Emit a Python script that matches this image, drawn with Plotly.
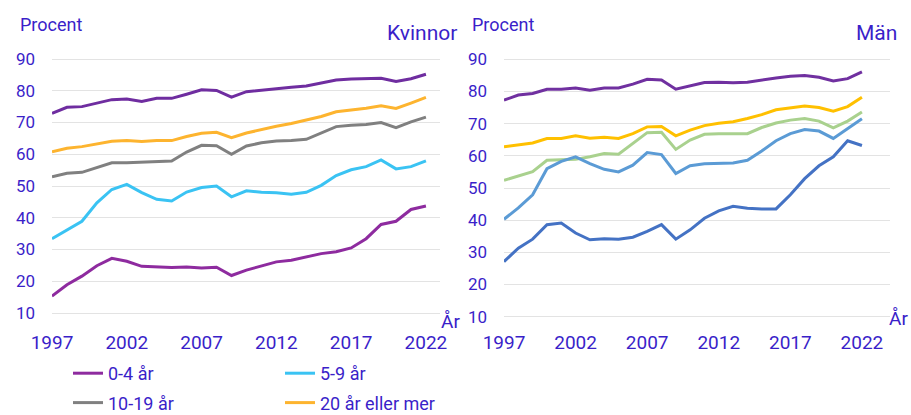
import plotly.graph_objects as go

years = list(range(1997, 2023))

# Kvinnor
kv_total = [72.9, 74.8, 75.0, 76.1, 77.2, 77.4, 76.6, 77.6, 77.6, 78.9, 80.3, 80.1, 78.0,
            79.7, 80.2, 80.8, 81.1, 81.5, 82.4, 83.4, 83.7, 83.9, 83.9, 82.9, 83.8, 85.2]
kv_0_4 = [15.3, 18.9, 21.6, 24.9, 27.2, 26.3, 24.7, 24.5, 24.3, 24.5, 24.2, 24.4, 21.8,
          23.5, 24.9, 26.1, 26.6, 27.7, 28.7, 29.3, 30.5, 33.4, 37.9, 38.9, 42.6, 43.7]
kv_5_9 = [33.4, 36.1, 38.9, 44.7, 48.9, 50.5, 47.9, 45.8, 45.3, 48.1, 49.5, 50.0, 46.6,
          48.5, 48.0, 47.9, 47.4, 48.0, 50.2, 53.3, 55.1, 56.1, 58.2, 55.4, 56.1, 57.9]
kv_10_19 = [52.9, 54.0, 54.3, 55.8, 57.3, 57.3, 57.5, 57.8, 57.9, 60.7, 62.8, 62.7, 60.0,
            62.6, 63.6, 64.2, 64.3, 64.7, 66.8, 68.7, 69.1, 69.4, 70.0, 68.4, 70.2, 71.7]
kv_20plus = [60.8, 61.9, 62.4, 63.3, 64.1, 64.3, 64.0, 64.3, 64.3, 65.6, 66.6, 66.9, 65.2,
             66.7, 67.8, 68.8, 69.7, 70.8, 71.9, 73.4, 73.9, 74.5, 75.3, 74.4, 76.1, 77.9]

# Män
man_total = [77.3, 78.9, 79.4, 80.7, 80.7, 81.1, 80.4, 81.1, 81.1, 82.3, 83.8, 83.6, 80.7,
             81.7, 82.8, 82.9, 82.7, 82.9, 83.6, 84.2, 84.7, 85.0, 84.4, 83.3, 84.0, 86.1]
man_0_4 = [27.1, 31.3, 34.1, 38.6, 39.1, 36.0, 33.9, 34.2, 34.1, 34.7, 36.5, 38.6, 34.1,
           37.0, 40.6, 42.9, 44.3, 43.7, 43.5, 43.5, 47.9, 52.9, 56.9, 59.7, 64.7, 63.2]
man_5_9 = [40.3, 43.8, 47.9, 56.0, 58.3, 59.7, 57.6, 55.8, 55.0, 57.1, 61.0, 60.4, 54.5,
           56.9, 57.5, 57.6, 57.8, 58.6, 61.5, 64.7, 66.9, 68.2, 67.7, 65.4, 68.5, 71.5]
man_10_19 = [52.4, 53.8, 55.1, 58.6, 58.8, 58.9, 59.7, 60.7, 60.5, 63.8, 67.2, 67.3, 62.0,
             64.9, 66.7, 66.9, 66.9, 66.9, 68.8, 70.2, 71.1, 71.6, 70.8, 68.7, 70.8, 73.6]
man_20plus = [62.8, 63.5, 64.0, 65.4, 65.4, 66.2, 65.5, 65.8, 65.4, 66.9, 69.0, 69.1, 66.2,
              68.0, 69.4, 70.1, 70.6, 71.6, 72.8, 74.3, 74.8, 75.5, 75.0, 73.9, 75.3, 78.2]

tick_years = [1997, 2002, 2007, 2012, 2017, 2022]
y_ticks = [10, 20, 30, 40, 50, 60, 70, 80, 90]

TXT = "#3a1fc9"
FONT = "Roboto"
W, H = 911, 415

fig = go.Figure()

def add(x, y, name, color, xa, ya, show, legend="legend", group=None):
    fig.add_trace(go.Scatter(x=x, y=y, name=name, mode="lines",
                             line=dict(color=color, width=3),
                             xaxis=xa, yaxis=ya, showlegend=show,
                             legend=legend, legendgroup=group or name))

# Kvinnor (legend order: 0-4, 5-9, 10-19, 20+)
add(years, kv_0_4, "0-4 år", "#8e2b9f", "x", "y", True, "legend", "g1")
add(years, kv_5_9, "5-9 år", "#3ac3f3", "x", "y", True, "legend2", "g2")
add(years, kv_10_19, "10-19 år", "#808080", "x", "y", True, "legend", "g3")
add(years, kv_20plus, "20 år eller mer", "#fdb42f", "x", "y", True, "legend2", "g4")
add(years, kv_total, "Samtliga", "#6f2da0", "x", "y", False)

# Män
add(years, man_total, "Samtliga (män)", "#7030a0", "x2", "y2", False)
add(years, man_20plus, "20 år eller mer (män)", "#ffc000", "x2", "y2", False)
add(years, man_10_19, "10-19 år (män)", "#a9d18e", "x2", "y2", False)
add(years, man_5_9, "5-9 år (män)", "#5b9bd5", "x2", "y2", False)
add(years, man_0_4, "0-4 år (män)", "#4472c4", "x2", "y2", False)

def px_x(p):
    return p / W

def px_y(p):
    return 1 - p / H

ytick_font = dict(family=FONT, size=17, color=TXT)
xtick_font = dict(family=FONT, size=19, color=TXT)
common = dict(showline=False, zeroline=False, ticks="", automargin=False)

fig.update_layout(
    template="none",
    width=W, height=H,
    margin=dict(l=0, r=0, t=0, b=0, autoexpand=False),
    paper_bgcolor="white", plot_bgcolor="white",
    font=dict(family=FONT, color=TXT),
    xaxis=dict(domain=[px_x(52), px_x(440)], range=[1997, 2022.94],
               tickvals=tick_years, showgrid=False, ticklabelstandoff=12,
               tickfont=xtick_font, anchor="y", **common),
    yaxis=dict(domain=[px_y(317), px_y(55)], range=[8.74, 91.26],
               tickvals=y_ticks, showgrid=True, gridcolor="#e3e3e3", gridwidth=1,
               ticklabelstandoff=16, tickfont=ytick_font, anchor="x", **common),
    xaxis2=dict(domain=[px_x(504), px_x(890)], range=[1997, 2023.96],
                tickvals=tick_years, showgrid=False, ticklabelstandoff=8,
                tickfont=xtick_font, anchor="y2", **common),
    yaxis2=dict(domain=[px_y(321), px_y(55)], range=[8.66, 91.34],
                tickvals=y_ticks, showgrid=True, gridcolor="#e3e3e3", gridwidth=1,
                ticklabelstandoff=16, tickfont=ytick_font, anchor="x2", **common),
    legend=dict(x=px_x(68), y=px_y(355), xanchor="left", yanchor="top",
                orientation="v", traceorder="grouped", tracegroupgap=3,
                font=dict(family=FONT, size=18, color=TXT), bgcolor="rgba(0,0,0,0)",
                itemclick=False, itemdoubleclick=False),
    legend2=dict(x=px_x(280), y=px_y(355), xanchor="left", yanchor="top",
                 orientation="v", traceorder="grouped", tracegroupgap=3,
                 font=dict(family=FONT, size=18, color=TXT), bgcolor="rgba(0,0,0,0)",
                 itemclick=False, itemdoubleclick=False),
    showlegend=True,
)

annots = [
    dict(text="Procent", x=px_x(18), y=px_y(25), xanchor="left", yanchor="middle", size=18),
    dict(text="Procent", x=px_x(470), y=px_y(25), xanchor="left", yanchor="middle", size=18),
    dict(text="Kvinnor", x=px_x(459), y=px_y(33), xanchor="right", yanchor="middle", size=21),
    dict(text="Män", x=px_x(899), y=px_y(33), xanchor="right", yanchor="middle", size=21),
    dict(text="År", x=px_x(462), y=px_y(321), xanchor="right", yanchor="middle", size=19),
    dict(text="År", x=px_x(910), y=px_y(318), xanchor="right", yanchor="middle", size=19),
]
for a in annots:
    fig.add_annotation(text=a["text"], x=a["x"], y=a["y"], xref="paper", yref="paper",
                       xanchor=a["xanchor"], yanchor=a["yanchor"], showarrow=False,
                       font=dict(family=FONT, size=a["size"], color=TXT))

fig.write_html("out.html", config={"displayModeBar": False},
               post_script="document.body.style.margin='0';document.body.style.overflow='hidden';")
